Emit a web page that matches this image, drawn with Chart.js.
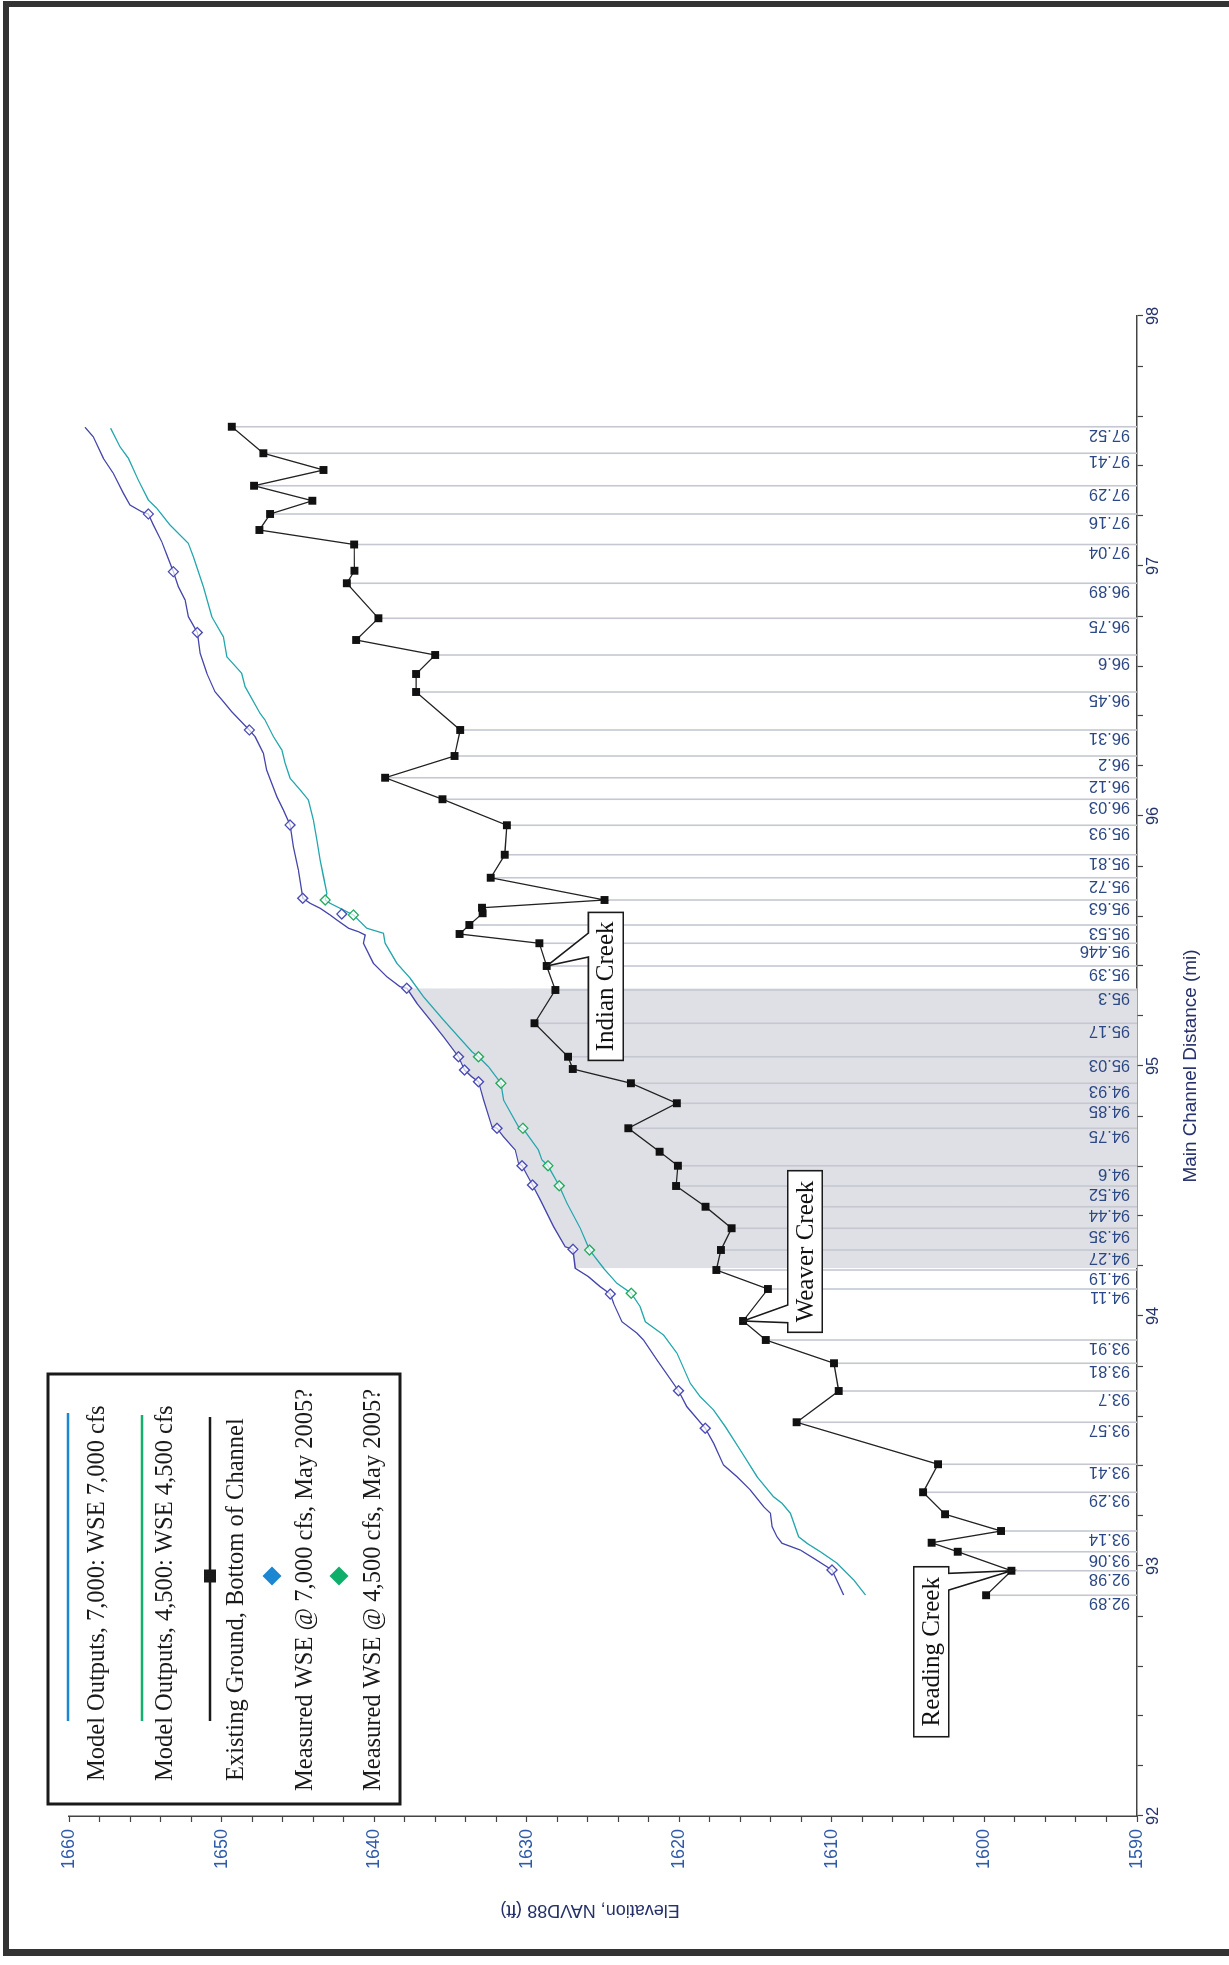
<!DOCTYPE html>
<html><head><meta charset="utf-8">
<script src="https://cdn.jsdelivr.net/npm/chart.js@4.4.0/dist/chart.umd.min.js"></script>
<style>
html,body{margin:0;padding:0;background:#fff;width:1229px;height:1965px;overflow:hidden;}
#frame{position:absolute;left:3px;top:1px;width:1260px;height:1955px;border-left:6px solid #333;border-top:6px solid #333;border-bottom:7px solid #333;box-sizing:border-box;}
#rot{position:absolute;left:0;top:0;width:1965px;height:1229px;transform-origin:0 0;transform:translate(0px,1965px) rotate(-90deg);}
canvas{display:block;}
</style></head>
<body>
<div id="frame"></div>
<div id="rot"><canvas id="c" width="1965" height="1229"></canvas></div>
<script>
// ---------------- DATA ----------------
const xMin = 92, xMax = 98, yMin = 1590, yMax = 1660;

const groundDist = [92.883, 92.981, 93.057, 93.093, 93.14, 93.207, 93.295, 93.407, 93.575, 93.70, 93.811, 93.904, 93.98, 94.108, 94.184, 94.264, 94.351, 94.437, 94.52, 94.601, 94.657, 94.751, 94.851, 94.931, 94.988, 95.037, 95.171, 95.304, 95.4, 95.491, 95.528, 95.564, 95.611, 95.633, 95.664, 95.753, 95.845, 95.963, 96.067, 96.153, 96.24, 96.344, 96.496, 96.568, 96.644, 96.704, 96.791, 96.931, 96.981, 97.086, 97.144, 97.208, 97.261, 97.321, 97.384, 97.451, 97.557];
const groundElev = [1599.89, 1598.23, 1601.75, 1603.46, 1598.91, 1602.58, 1604.02, 1603.04, 1612.31, 1609.55, 1609.86, 1614.33, 1615.82, 1614.19, 1617.57, 1617.27, 1616.57, 1618.28, 1620.21, 1620.09, 1621.29, 1623.34, 1620.16, 1623.17, 1626.98, 1627.29, 1629.49, 1628.12, 1628.69, 1629.17, 1634.4, 1633.76, 1632.89, 1632.93, 1624.9, 1632.36, 1631.44, 1631.3, 1635.52, 1639.28, 1634.73, 1634.36, 1637.25, 1637.25, 1636.0, 1641.18, 1639.72, 1641.79, 1641.29, 1641.31, 1647.52, 1646.82, 1644.05, 1647.87, 1643.32, 1647.26, 1649.33];

const wse7000Dist = [92.884, 92.984, 93.031, 93.064, 93.091, 93.117, 93.157, 93.211, 93.237, 93.304, 93.357, 93.404, 93.491, 93.551, 93.637, 93.701, 93.824, 93.904, 93.931, 93.977, 94.051, 94.088, 94.117, 94.157, 94.191, 94.267, 94.277, 94.357, 94.464, 94.524, 94.601, 94.611, 94.664, 94.717, 94.751, 94.757, 94.864, 94.937, 94.957, 94.984, 95.037, 95.117, 95.184, 95.251, 95.311, 95.317, 95.357, 95.411, 95.491, 95.524, 95.537, 95.551, 95.584, 95.604, 95.631, 95.651, 95.671, 95.784, 95.877, 95.964, 96.024, 96.077, 96.184, 96.251, 96.317, 96.344, 96.417, 96.457, 96.497, 96.571, 96.651, 96.734, 96.797, 96.864, 96.917, 96.977, 97.044, 97.097, 97.164, 97.208, 97.217, 97.244, 97.291, 97.371, 97.431, 97.517, 97.555];
const wse7000Elev = [1609.23, 1609.99, 1611.2, 1612.07, 1613.27, 1613.6, 1613.92, 1614.03, 1614.47, 1615.34, 1616.22, 1617.1, 1617.75, 1618.3, 1619.5, 1620.05, 1621.46, 1622.34, 1622.77, 1623.76, 1624.31, 1624.52, 1625.18, 1625.95, 1626.82, 1626.97, 1627.48, 1628.24, 1629.11, 1629.62, 1630.31, 1630.54, 1630.75, 1631.52, 1631.95, 1632.28, 1632.83, 1633.16, 1633.6, 1634.08, 1634.47, 1635.45, 1636.33, 1637.2, 1637.86, 1638.3, 1639.17, 1640.05, 1640.7, 1640.59, 1641.03, 1641.68, 1642.45, 1642.89, 1643.54, 1644.2, 1644.68, 1644.96, 1645.29, 1645.51, 1645.95, 1646.38, 1647.04, 1647.26, 1647.8, 1648.18, 1649.33, 1649.88, 1650.43, 1650.97, 1651.41, 1651.59, 1652.18, 1652.39, 1652.83, 1653.16, 1653.59, 1653.92, 1654.47, 1654.8, 1655.23, 1656.0, 1656.44, 1657.1, 1657.75, 1658.41, 1658.95];

const wse4500Dist = [92.884, 92.944, 93.011, 93.057, 93.091, 93.117, 93.211, 93.251, 93.277, 93.357, 93.464, 93.557, 93.624, 93.677, 93.731, 93.851, 93.924, 93.977, 94.037, 94.091, 94.131, 94.191, 94.264, 94.351, 94.451, 94.521, 94.601, 94.624, 94.664, 94.751, 94.757, 94.864, 94.931, 94.997, 95.037, 95.057, 95.117, 95.184, 95.277, 95.351, 95.411, 95.491, 95.531, 95.551, 95.604, 95.624, 95.651, 95.664, 95.691, 95.757, 95.824, 95.904, 95.984, 96.064, 96.104, 96.151, 96.211, 96.264, 96.317, 96.384, 96.411, 96.517, 96.571, 96.637, 96.717, 96.797, 96.917, 97.037, 97.091, 97.164, 97.231, 97.264, 97.344, 97.431, 97.477, 97.551];
const wse4500Elev = [1607.8, 1608.57, 1609.66, 1610.75, 1611.63, 1612.18, 1612.72, 1613.27, 1613.82, 1614.9, 1616.0, 1616.98, 1617.75, 1618.62, 1619.28, 1620.15, 1621.03, 1622.23, 1622.56, 1623.15, 1624.09, 1624.96, 1625.88, 1626.49, 1627.36, 1627.87, 1628.61, 1629.0, 1629.23, 1630.25, 1630.54, 1631.52, 1631.69, 1632.5, 1633.16, 1633.59, 1634.47, 1635.46, 1636.77, 1637.64, 1638.51, 1639.28, 1639.39, 1640.48, 1641.36, 1642.01, 1642.89, 1643.21, 1643.1, 1643.32, 1643.54, 1643.76, 1643.98, 1644.31, 1644.85, 1645.51, 1645.84, 1646.05, 1646.6, 1647.15, 1647.48, 1648.46, 1648.68, 1649.66, 1649.88, 1650.64, 1651.19, 1651.85, 1652.18, 1653.38, 1654.25, 1654.8, 1655.46, 1656.11, 1656.66, 1657.27];

const meas7000Dist = [92.984, 93.551, 93.701, 94.088, 94.267, 94.524, 94.601, 94.751, 94.937, 94.984, 95.037, 95.311, 95.608, 95.671, 95.964, 96.344, 96.734, 96.977, 97.208];
const meas7000Elev = [1609.99, 1618.3, 1620.05, 1624.52, 1626.97, 1629.62, 1630.31, 1631.95, 1633.16, 1634.08, 1634.47, 1637.86, 1642.12, 1644.68, 1645.51, 1648.18, 1651.59, 1653.16, 1654.8];

const meas4500Dist = [94.091, 94.264, 94.521, 94.601, 94.751, 94.931, 95.037, 95.604, 95.664];
const meas4500Elev = [1623.15, 1625.88, 1627.87, 1628.61, 1630.25, 1631.69, 1633.16, 1641.36, 1643.21];

const stationLabels = ['92.89','92.98','93.06','93.14','93.29','93.41','93.57','93.7','93.81','93.91','94.11','94.19','94.27','94.35','94.44','94.52','94.6','94.75','94.85','94.93','95.03','95.17','95.3','95.39','95.446','95.53','95.63','95.72','95.81','95.93','96.03','96.12','96.2','96.31','96.45','96.6','96.75','96.89','97.04','97.16','97.29','97.41','97.52'];
const stationDist = [92.883, 92.981, 93.057, 93.14, 93.295, 93.407, 93.575, 93.70, 93.811, 93.904, 94.108, 94.184, 94.264, 94.351, 94.437, 94.52, 94.601, 94.751, 94.851, 94.931, 95.037, 95.171, 95.304, 95.4, 95.491, 95.564, 95.664, 95.753, 95.845, 95.963, 96.067, 96.153, 96.24, 96.344, 96.496, 96.644, 96.791, 96.931, 97.086, 97.208, 97.321, 97.451, 97.557];

const shadeFrom = 94.184, shadeTo = 95.311;

const calloutLabels = ['Reading Creek', 'Weaver Creek', 'Indian Creek'];
const calloutDist = [92.981, 93.98, 95.4];

const legendLabels = ['Model Outputs, 7,000: WSE 7,000 cfs', 'Model Outputs, 4,500: WSE 4,500 cfs', 'Existing Ground, Bottom of Channel', 'Measured WSE @ 7,000 cfs, May 2005?', 'Measured WSE @ 4,500 cfs, May 2005?'];
const xTitle = 'Main Channel Distance (mi)';
const yTitle = 'Elevation, NAVD88 (ft)';

// ---------------- FONTS ----------------
function hasFont(name){
  const c = document.createElement('canvas').getContext('2d');
  const s = 'abcdefghijklmnopqrstuvwxyz0123456789';
  c.font = '40px monospace'; const w1 = c.measureText(s).width;
  c.font = '40px "' + name + '", monospace'; const w2 = c.measureText(s).width;
  return Math.abs(w1 - w2) > 1;
}
const NARROW = hasFont('Liberation Sans Narrow');
const SANS = NARROW ? '"Liberation Sans Narrow", "Liberation Sans", Arial, sans-serif' : '"Liberation Sans", Arial, sans-serif';
const K = NARROW ? 1 : 0.82;
const sz = n => Math.round(n * K * 10) / 10;
const SERIF = '"Liberation Serif", "Times New Roman", serif';

// ---------------- BUILD ----------------
const pts = (xs, ys) => xs.map((d, i) => ({x: d, y: ys[i]}));
const stationPts = [];
stationDist.forEach(d => {
  const e = groundElev[groundDist.indexOf(d)];
  stationPts.push({x: d, y: e}, {x: d, y: yMin}, {x: d, y: null});
});
const shadePts = pts(wse7000Dist, wse7000Elev).filter(p => p.x >= shadeFrom - 1e-9 && p.x <= shadeTo + 1e-9);

const near = v => Math.abs(v - Math.round(v)) < 1e-6;

const yTickSize = sz(22), xTickSize = sz(20), yTitleSize = sz(22), xTitleSize = sz(23), stSize = sz(20);

function callout(ctx, box, edge, b0, b1, tx, ty, text){
  const [x0, y0, x1, y1] = box;
  ctx.beginPath();
  if (edge === 'bottom') {
    ctx.moveTo(x0, y0); ctx.lineTo(x1, y0); ctx.lineTo(x1, y1);
    ctx.lineTo(b1, y1); ctx.lineTo(tx, ty); ctx.lineTo(b0, y1); ctx.lineTo(x0, y1);
  } else {
    ctx.moveTo(x0, y0); ctx.lineTo(b0, y0); ctx.lineTo(tx, ty); ctx.lineTo(b1, y0);
    ctx.lineTo(x1, y0); ctx.lineTo(x1, y1); ctx.lineTo(x0, y1);
  }
  ctx.closePath();
  ctx.fillStyle = '#fff'; ctx.fill();
  ctx.lineWidth = 1.6; ctx.strokeStyle = '#1a1a1a'; ctx.stroke();
  ctx.fillStyle = '#111';
  ctx.font = '25px ' + SERIF;
  ctx.textAlign = 'center'; ctx.textBaseline = 'middle';
  ctx.fillText(text, (x0 + x1) / 2, (y0 + y1) / 2 + 1);
}

const overlay = {
  id: 'overlay',
  afterDatasetsDraw(chart){
    const {ctx, scales: {x, y}} = chart;
    // station labels
    ctx.save();
    ctx.fillStyle = '#2b4784';
    ctx.font = stSize + 'px ' + SANS;
    ctx.textAlign = 'left'; ctx.textBaseline = 'alphabetic';
    const yb = y.getPixelForValue(yMin) - 7;
    stationDist.forEach((d, i) => {
      const px = x.getPixelForValue(d);
      ctx.save(); ctx.translate(px - 3, yb); ctx.rotate(-Math.PI / 2);
      ctx.fillText(stationLabels[i], 0, 0); ctx.restore();
    });
    ctx.restore();
    // callouts
    ctx.save();
    const anchors = calloutDist.map(d => [x.getPixelForValue(d), y.getPixelForValue(groundElev[groundDist.indexOf(d)])]);
    let [ax, ay] = anchors[0];
    callout(ctx, [ax - 166, ay - 97.7, ax + 4, ay - 62.7], 'bottom', ax - 19.3, ax - 2.6, ax, ay, calloutLabels[0]);
    [ax, ay] = anchors[1];
    callout(ctx, [ax - 11.3, ay + 44.7, ax + 150.3, ay + 79.2], 'top', ax - 1.7, ax + 16, ax, ay, calloutLabels[1]);
    [ax, ay] = anchors[2];
    callout(ctx, [ax - 94.4, ay + 41.7, ax + 53.6, ay + 76.6], 'top', ax + 9, ax + 33, ax, ay, calloutLabels[2]);
    ctx.restore();
  },
  afterDraw(chart){
    const ctx = chart.ctx;
    ctx.save();
    // y-axis title (placed slightly off-centre, as in the source figure)
    ctx.fillStyle = '#26306a';
    ctx.font = yTitleSize + 'px ' + SANS;
    ctx.textAlign = 'center'; ctx.textBaseline = 'middle';
    ctx.translate(55, 590); ctx.rotate(-Math.PI / 2);
    ctx.fillText(yTitle, 0, 0);
    ctx.restore();

    ctx.save();
    ctx.fillStyle = '#fff'; ctx.fillRect(161, 48, 430, 352);
    ctx.lineWidth = 3; ctx.strokeStyle = '#1a1a1a'; ctx.strokeRect(161, 48, 430, 352);
    ctx.lineWidth = 2.5;
    ctx.strokeStyle = '#1b86d2'; ctx.beginPath(); ctx.moveTo(244, 68); ctx.lineTo(552, 68); ctx.stroke();
    ctx.strokeStyle = '#12b06c'; ctx.beginPath(); ctx.moveTo(244, 142); ctx.lineTo(550, 142); ctx.stroke();
    ctx.strokeStyle = '#1a1a1a'; ctx.beginPath(); ctx.moveTo(244, 210); ctx.lineTo(548, 210); ctx.stroke();
    ctx.fillStyle = '#1a1a1a'; ctx.fillRect(389 - 6.5, 210 - 6, 13, 12);
    const diamond = (cx, cy, r, col) => { ctx.fillStyle = col; ctx.beginPath(); ctx.moveTo(cx - r, cy); ctx.lineTo(cx, cy - r); ctx.lineTo(cx + r, cy); ctx.lineTo(cx, cy + r); ctx.closePath(); ctx.fill(); };
    diamond(389, 272, 9.5, '#1b86d2');
    diamond(389, 339, 9.5, '#0fae6a');
    ctx.fillStyle = '#1a1a1a';
    ctx.font = '24.5px ' + SERIF;
    ctx.textAlign = 'left'; ctx.textBaseline = 'alphabetic';
    ctx.fillText(legendLabels[0], 184, 103.5);
    ctx.fillText(legendLabels[1], 184, 172);
    ctx.fillText(legendLabels[2], 184, 243);
    ctx.fillText(legendLabels[3], 174, 312);
    ctx.fillText(legendLabels[4], 174, 379.5);
    ctx.restore();
  }
};

Chart.defaults.font.family = SANS;
new Chart(document.getElementById('c'), {
  type: 'line',
  data: { datasets: [
    {label: 'shade', data: shadePts, fill: 'start', backgroundColor: '#dfe0e5', borderWidth: 0, borderColor: 'rgba(0,0,0,0)', pointRadius: 0, order: 10},
    {label: 'stations', data: stationPts, borderColor: '#c5c8d0', borderWidth: 1.6, pointRadius: 0, fill: false, order: 9},
    {label: legendLabels[1], data: pts(wse4500Dist, wse4500Elev), borderColor: '#22a6ad', borderWidth: 1.3, pointRadius: 0, fill: false, order: 6},
    {label: legendLabels[0], data: pts(wse7000Dist, wse7000Elev), borderColor: '#4444aa', borderWidth: 1.3, pointRadius: 0, fill: false, order: 5},
    {label: legendLabels[4], data: pts(meas4500Dist, meas4500Elev), showLine: false, pointStyle: 'rectRot', pointRadius: 5, pointBackgroundColor: 'rgba(255,255,255,0.7)', pointBorderColor: '#22aa5c', pointBorderWidth: 1.3, order: 4},
    {label: legendLabels[3], data: pts(meas7000Dist, meas7000Elev), showLine: false, pointStyle: 'rectRot', pointRadius: 5, pointBackgroundColor: 'rgba(255,255,255,0.7)', pointBorderColor: '#4a4ab8', pointBorderWidth: 1.3, order: 3},
    {label: legendLabels[2], data: pts(groundDist, groundElev), borderColor: '#222', borderWidth: 1.3, pointStyle: 'rect', pointRadius: 5.6, pointBackgroundColor: '#111', pointBorderColor: '#111', pointBorderWidth: 0, fill: false, order: 1}
  ]},
  options: {
    responsive: false, animation: false, devicePixelRatio: 1,
    layout: {padding: {left: 0, right: 316, top: 69, bottom: 0}},
    plugins: {legend: {display: false}, tooltip: {enabled: false}},
    events: [],
    scales: {
      x: {
        type: 'linear', min: xMin, max: xMax,
        afterFit: s => { s.height = 92; },
        ticks: {stepSize: 0.2, autoSkip: false, maxRotation: 0, minRotation: 0, padding: 1, color: '#24336b',
          font: {family: SANS, size: xTickSize},
          callback: v => near(v) ? String(Math.round(v)) : ''},
        grid: {display: true, drawOnChartArea: false, drawTicks: true, tickLength: 6, color: '#444', tickColor: '#444', tickWidth: 1.2},
        border: {display: true, color: '#444', width: 1.5},
        title: {display: true, text: xTitle, color: '#26306a', font: {family: SANS, size: xTitleSize}, padding: {top: 0, bottom: 1229 - 1191 - xTitleSize * 0.6}}
      },
      y: {
        type: 'linear', min: yMin, max: yMax,
        afterFit: s => { s.width = 149; },
        ticks: {stepSize: 2, autoSkip: false, padding: 7, color: '#2f5aa8',
          font: {family: SANS, size: yTickSize},
          callback: v => (Math.abs(v % 10) < 1e-6) ? String(v) : ''},
        grid: {display: true, drawOnChartArea: false, drawTicks: true, tickLength: 6, color: '#444', tickColor: '#444', tickWidth: 1.2},
        border: {display: true, color: '#444', width: 1.5},
        title: {display: false}
      }
    }
  },
  plugins: [overlay]
});
</script>
</body></html>
